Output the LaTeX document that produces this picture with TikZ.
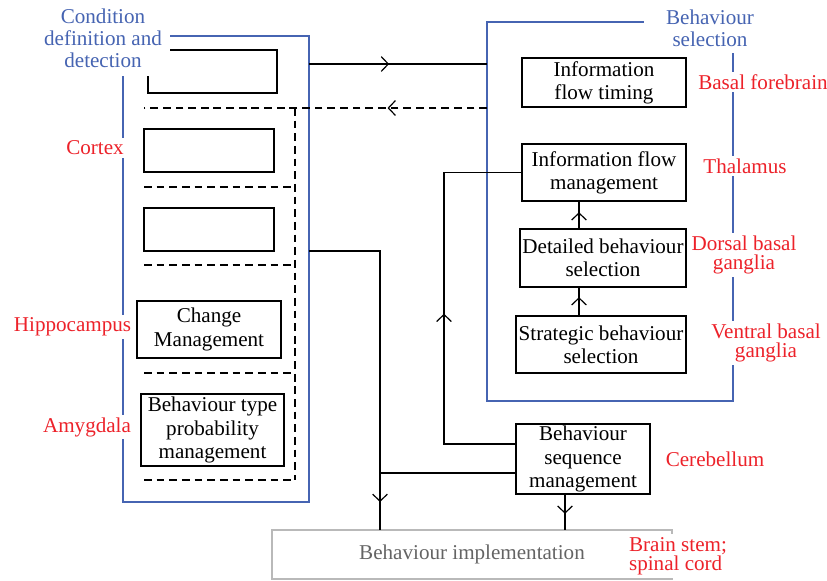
\documentclass[tikz,border=0pt]{standalone}
\usepackage{fontspec}
\setmainfont{Liberation Serif}
\usepackage{tikz}
\usetikzlibrary{arrows.meta, calc, decorations.markings}
\definecolor{areablue}{RGB}{70,100,178}
\definecolor{regionred}{RGB}{237,34,42}
\definecolor{implgray}{RGB}{100,100,100}
\tikzset{block/.style={draw,line width=0.85pt,inner sep=1pt,outer sep=0pt,align=center,font=\fontsize{15}{16.5}\selectfont}}
\tikzset{region/.style={text=regionred,fill=white,inner sep=2pt,align=center,font=\fontsize{15}{13.5}\selectfont}}
\tikzset{area/.style={text=areablue,fill=white,align=center,font=\fontsize{15}{15.5}\selectfont}}
\tikzset{frame/.style={draw=areablue,line width=0.8pt}}
\tikzset{link/.style={draw,line width=0.85pt}}
\tikzset{dashed link/.style={link,dash pattern=on 5.5pt off 3.5pt}}
\tikzset{mid arrow/.style={postaction={decorate,decoration={markings,mark=at position #1 with {\arrow{>}}}}}}

\begin{document}
\begin{tikzpicture}[x=0.025cm,y=-0.025cm,>={Straight Barb[length=5pt,width=10.5pt]}]
                    \useasboundingbox (0,0) rectangle (827,580);
                    % group frames
                    \draw[frame] (123,36) rectangle (309,502);
                    \draw[frame] (487,22) rectangle (733,401);

                    % condition definition and detection
                    \node[block, minimum width=3.225cm, minimum height=1.075cm] (cond) at (212.5,71.5) {};
                    \node[block, minimum width=3.25cm, minimum height=1.075cm] (cortexa) at (209,150.5) {};
                    \node[block, minimum width=3.25cm, minimum height=1.075cm] (cortexb) at (209,229.5) {};
                    \node[block, minimum width=3.6cm, minimum height=1.425cm] (change) at (209,329.5) {Change\\Management};
                    \node[block, minimum width=3.575cm, minimum height=1.8cm] (btype) at (212.5,430) {Behaviour type\\probability\\management};
                    \node[area, inner sep=6pt] (cddtitle) at (103,38) {Condition\\definition and\\detection};

                    % behaviour selection
                    \node[block, minimum width=4.1cm, minimum height=1.225cm] (timing) at (604,82.5) {Information\\flow timing};
                    \node[block, minimum width=4.1cm, minimum height=1.425cm] (flow) at (604,172.5) {Information flow\\management};
                    \node[block, minimum width=4.15cm, minimum height=1.45cm] (detail) at (603,258) {Detailed behaviour\\selection};
                    \node[block, minimum width=4.25cm, minimum height=1.425cm] (strat) at (601,344.5) {Strategic behaviour\\selection};
                    \node[area, inner xsep=16pt, inner ysep=5pt] (bstitle) at (710,28) {Behaviour\\selection};

                    \node[block, minimum width=3.35cm, minimum height=1.75cm] (seq) at (583,459) {Behaviour\\sequence\\management};
                    \node[block, draw=gray!55, text=implgray, minimum width=10cm, minimum height=1.225cm] (impl) at (472,554.5) {Behaviour implementation};

                    % brain regions
                    \node[region] (cortex) at (95,148) {Cortex};
                    \node[region] (hippo) at (72.5,327) {Hippocampus};
                    \node[region] (amyg) at (87,427) {Amygdala};
                    \node[region] (forebrain) at (763,82) {Basal forebrain};
                    \node[region] (thal) at (745,166) {Thalamus};
                    \node[region] (dorsal) at (744,255) {Dorsal basal\\ganglia};
                    \node[region] (ventral) at (766,343) {Ventral basal\\ganglia};
                    \node[region] (cereb) at (715,459) {Cerebellum};
                    \node[region, anchor=west, align=left] (stem) at (626,556) {Brain stem;\\spinal cord};

                    % dashed partitions
                    \foreach \y in {187,265,373,480}
                        \draw[dashed link] (144,\y) -- (295,\y);
                    \draw[dashed link] (295,108) -- (295,480);

                    % connectors
                    \coordinate (cddout1) at (309,64);
                    \coordinate (bsin1) at (487,64);
                    \coordinate (bsout2) at (487,108);
                    \coordinate (cddin2) at (144,108);
                    \coordinate (cddout3) at (309,251);
                    \coordinate (vx) at (380,0);
                    \coordinate (jx) at (444,0);
                    \coordinate (sx) at (579,0);
                    \coordinate (qx) at (565,0);
                    \coordinate (seqlow) at ($(seq.west)+(0,14)$);
                    \coordinate (seqhigh) at ($(seq.west)+(0,-15)$);

                    \draw[link, mid arrow=0.45] (cddout1) -- (bsin1);
                    \draw[dashed link, mid arrow=0.29] (bsout2) -- (cddin2);
                    \draw[link, mid arrow=0.92] (cddout3) -| (vx |- impl.north);
                    \draw[link] (seqlow) -- (seqlow -| vx);
                    \draw[link, mid arrow=0.48] (seqhigh) -| (jx |- flow.west) -- (flow.west);
                    \draw[link, mid arrow=0.65] (strat.north -| sx) -- (detail.south -| sx);
                    \draw[link, mid arrow=0.6] (detail.north -| sx) -- (flow.south -| sx);
                    \draw[link, mid arrow=0.55] (seq.south -| qx) -- (impl.north -| qx);
                    %\draw[link] (seq.east) -- (cereb.west);

                \end{tikzpicture}
\end{document}
